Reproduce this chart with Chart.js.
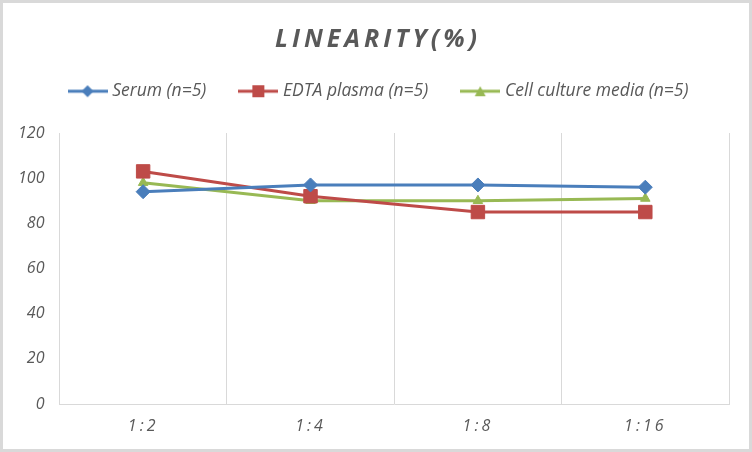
<!DOCTYPE html>
<html>
<head>
<meta charset="utf-8">
<title>Linearity</title>
<script src="https://cdn.jsdelivr.net/npm/chart.js@4.4.1/dist/chart.umd.min.js"></script>
<style>
  html, body { margin: 0; padding: 0; background: #fff; }
  #wrap { width: 752px; height: 452px; box-sizing: border-box; border: 3px solid #d9d9d9; }
  canvas { display: block; }
</style>
</head>
<body>
<div id="wrap"><canvas id="linearityChart" width="746" height="446"></canvas></div>
<script>
// --------------------------------
// Data
// --------------------------------
const dilutions = ["1:2", "1:4", "1:8", "1:16"];
const serumValues = [94, 97, 97, 96];
const edtaValues = [103, 92, 85, 85];
const cellMediaValues = [98, 90, 90, 91];
const yTicks = [0, 20, 40, 60, 80, 100, 120];

const seriesNames = ["Serum (n=5)", "EDTA plasma (n=5)", "Cell culture media (n=5)"];
const seriesColors = ["#4a7ebb", "#be4b48", "#98b954"];

const FONT = "'Open Sans', 'DejaVu Sans', sans-serif";
const TEXT_COLOR = "#595959";
const GRID_COLOR = "#d9d9d9";

// -------------------------------
// Helpers
// -------------------------------
// small line + marker icon for the legend (Excel style)
function legendIcon(color, shape) {
  const c = document.createElement("canvas");
  c.width = 40;
  c.height = 16;
  const g = c.getContext("2d");
  g.strokeStyle = color;
  g.fillStyle = color;
  g.lineWidth = 3;
  g.beginPath();
  g.moveTo(0, 8);
  g.lineTo(40, 8);
  g.stroke();
  g.beginPath();
  if (shape === "diamond") {
    g.moveTo(20, 2); g.lineTo(26, 8); g.lineTo(20, 14); g.lineTo(14, 8);
  } else if (shape === "square") {
    g.rect(14, 2, 12, 12);
  } else {
    g.moveTo(20, 3); g.lineTo(25.5, 13); g.lineTo(14.5, 13);
  }
  g.closePath();
  g.fill();
  return c;
}

const legendIcons = [
  legendIcon(seriesColors[0], "diamond"),
  legendIcon(seriesColors[1], "square"),
  legendIcon(seriesColors[2], "triangle"),
];

// wrap a draw method so its text gets some letter spacing
function withSpacing(obj, method, spacing) {
  const orig = obj[method];
  obj[method] = function (...args) {
    this.ctx.save();
    this.ctx.letterSpacing = spacing;
    orig.apply(this, args);
    this.ctx.restore();
  };
}

// extra room under the legend, centre nudge, letter spacing on title / x labels
const layoutTweaks = {
  id: "layoutTweaks",
  beforeInit(chart) {
    const fit = chart.legend.fit;
    chart.legend.fit = function () {
      fit.call(this);
      this.height += 23;
    };
    withSpacing(chart.titleBlock, "draw", "4px");
  },
  afterLayout(chart) {
    chart.legend.left += 14;
    chart.legend.right += 14;
    chart.titleBlock.left += 12;
    chart.titleBlock.right += 12;
  },
  afterUpdate(chart) {
    const x = chart.scales.x;
    if (!x._spaced) {
      withSpacing(x, "drawLabels", "3px");
      x._spaced = true;
    }
  },
};

function makeDataset(i, values, pointStyle, radius) {
  return {
    label: seriesNames[i],
    data: values,
    borderColor: seriesColors[i],
    backgroundColor: seriesColors[i],
    borderWidth: 3,
    pointStyle,
    pointRadius: radius,
    pointHoverRadius: radius,
    pointBorderWidth: 1,
    tension: 0,
  };
}

// -------------------------------
// Chart
// -------------------------------
const ctx = document.getElementById("linearityChart").getContext("2d");
const linearityChart = new Chart(ctx, {
  type: "line",
  data: {
    labels: dilutions,
    datasets: [
      makeDataset(0, serumValues, "rectRot", 7),
      makeDataset(1, edtaValues, "rect", 9.5),
      makeDataset(2, cellMediaValues, "triangle", 5.5),
    ],
  },
  options: {
    responsive: false,
    animation: false,
    layout: { padding: { left: 0, right: 20, top: 0, bottom: 0 } },
    plugins: {
      title: {
        display: true,
        text: "LINEARITY(%)",
        color: TEXT_COLOR,
        font: { family: FONT, size: 25, weight: "bold", style: "italic", lineHeight: 0.5 },
        padding: { top: 31, bottom: 0 },
      },
      legend: {
        position: "top",
        labels: {
          color: TEXT_COLOR,
          font: { family: FONT, size: 17.5, style: "italic" },
          usePointStyle: true,
          pointStyleWidth: 32,
          padding: 36,
          generateLabels(chart) {
            const items = Chart.defaults.plugins.legend.labels.generateLabels(chart);
            items.forEach((it) => {
              it.pointStyle = legendIcons[it.datasetIndex];
            });
            return items;
          },
        },
      },
      tooltip: { enabled: false },
    },
    scales: {
      x: {
        offset: true,
        grid: { display: true, offset: true, color: GRID_COLOR, drawTicks: false },
        border: { display: true, color: GRID_COLOR },
        ticks: {
          color: TEXT_COLOR,
          padding: 20.5,
          font: { family: FONT, size: 16, style: "italic", lineHeight: 0.25 },
        },
      },
      y: {
        min: yTicks[0],
        max: yTicks[yTicks.length - 1],
        grid: { display: false, drawTicks: false },
        border: { display: false },
        ticks: {
          stepSize: yTicks[1] - yTicks[0],
          color: TEXT_COLOR,
          padding: 15,
          font: { family: FONT, size: 16, style: "italic" },
        },
      },
    },
  },
  plugins: [layoutTweaks],
});
linearityChart.draw();
</script>
</body>
</html>
